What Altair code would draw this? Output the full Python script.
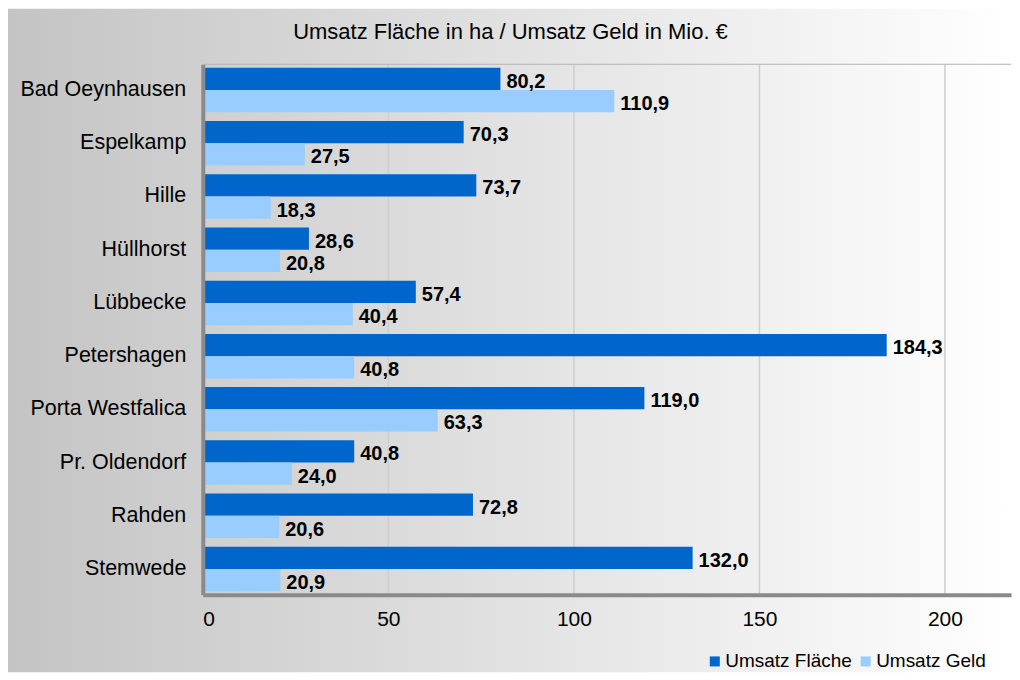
import altair as alt
import pandas as pd

orte = ["Bad Oeynhausen", "Espelkamp", "Hille", "Hüllhorst", "Lübbecke",
        "Petershagen", "Porta Westfalica", "Pr. Oldendorf", "Rahden", "Stemwede"]
umsatz_flaeche = [80.2, 70.3, 73.7, 28.6, 57.4, 184.3, 119.0, 40.8, 72.8, 132.0]
umsatz_geld = [110.9, 27.5, 18.3, 20.8, 40.4, 40.8, 63.3, 24.0, 20.6, 20.9]
serien = ["Umsatz Fläche", "Umsatz Geld"]
farben = ["#0066CC", "#99CCFF"]
x_ticks = [0, 50, 100, 150, 200]
grid_ticks = [50, 100, 150, 200]
titel = "Umsatz Fläche in ha / Umsatz Geld in Mio. €"

rows = []
for o, f, g in zip(orte, umsatz_flaeche, umsatz_geld):
    rows.append({"Ort": o, "Serie": serien[0], "Wert": f})
    rows.append({"Ort": o, "Serie": serien[1], "Wert": g})
df = pd.DataFrame(rows)

W, H = 809, 531
LEFT, TOP = 195, 55.5
FONT = "Liberation Sans"

xscale = alt.Scale(domain=[0, 217.8], nice=False, zero=True)

one = pd.DataFrame({"a": [0]})

bg = alt.Chart(one).mark_rect(
    fill=alt.LinearGradient(
        gradient="linear",
        stops=[alt.GradientStop(color="#c4c4c4", offset=0),
               alt.GradientStop(color="#ffffff", offset=1)],
        x1=0, x2=1, y1=0, y2=0),
).encode(x=alt.value(-LEFT), x2=alt.value(W), y=alt.value(-TOP), y2=alt.value(664 - TOP))

title_mark = alt.Chart(one).mark_text(
    text=titel, font=FONT, fontSize=22, color="#000000",
    align="center", baseline="alphabetic"
).encode(x=alt.value(308), y=alt.value(-25.8))

top_border = alt.Chart(one).mark_rule(
    color="#b4b4b4", strokeWidth=1
).encode(x=alt.value(0), x2=alt.value(W), y=alt.value(0))

grid = alt.Chart(pd.DataFrame({"t": grid_ticks})).mark_rule(
    color="#cfcfcf", strokeWidth=1.5
).encode(x=alt.X("t:Q", scale=xscale))

base = alt.Chart(df).encode(
    y=alt.Y("Ort:N", sort=orte,
            scale=alt.Scale(paddingInner=0.164, paddingOuter=0.064),
            axis=alt.Axis(title=None, ticks=False, labelFont=FONT, labelFontSize=21.5,
                          labelColor="#000000", labelPadding=17, domainColor="#8a8a8a",
                          domainWidth=4, zindex=1, grid=False)),
    yOffset=alt.YOffset("Serie:N", sort=serien),
    x=alt.X("Wert:Q", scale=xscale,
            axis=alt.Axis(title=None, values=x_ticks, ticks=False, grid=False,
                          labelFont=FONT, labelFontSize=21, labelColor="#000000",
                          labelPadding=14, domainColor="#8a8a8a", domainWidth=4,
                          zindex=1, format="d")),
)

bars = base.mark_bar().encode(
    color=alt.Color("Serie:N", sort=serien,
                    scale=alt.Scale(domain=serien, range=farben),
                    legend=alt.Legend(title=None, orient="none", legendX=503, legendY=588,
                                      direction="horizontal", symbolType="square",
                                      symbolSize=100, symbolStrokeWidth=0,
                                      labelFont=FONT, labelFontSize=19, labelColor="#000000",
                                      labelOffset=1, columnPadding=4, padding=0))
)

labels = base.transform_calculate(
    label="replace(format(datum.Wert, '.1f'), '.', ',')"
).mark_text(align="left", baseline="middle", dx=6, dy=3, font=FONT,
            fontSize=20, fontWeight="bold", color="#000000").encode(text="label:N")

chart = alt.layer(bg, title_mark, grid, top_border, bars, labels).properties(
    width=W, height=H, padding=0,
).configure_view(stroke=None)

chart.save("out.html", embed_options={"renderer": "svg", "actions": False})
